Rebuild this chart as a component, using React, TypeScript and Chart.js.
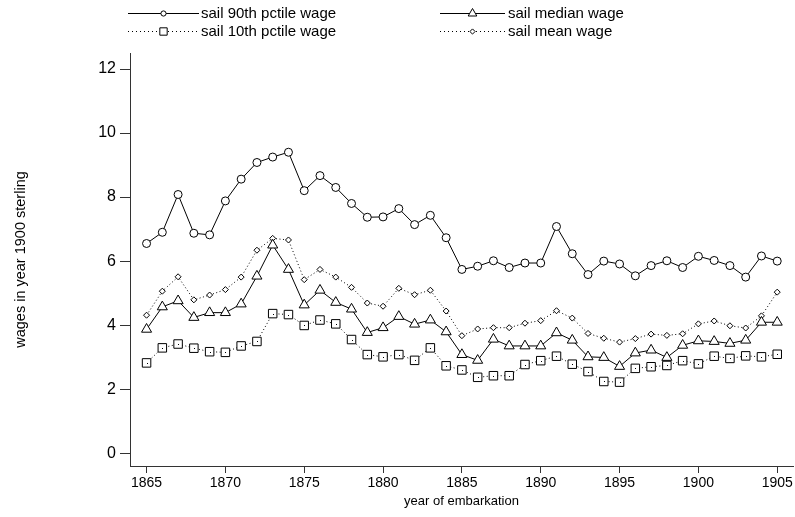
import React, { useEffect, useRef } from 'react';
import { Chart, registerables } from 'chart.js';

Chart.register(...registerables);

const YEARS = [
  1865, 1866, 1867, 1868, 1869, 1870, 1871, 1872, 1873, 1874,
  1875, 1876, 1877, 1878, 1879, 1880, 1881, 1882, 1883, 1884,
  1885, 1886, 1887, 1888, 1889, 1890, 1891, 1892, 1893, 1894,
  1895, 1896, 1897, 1898, 1899, 1900, 1901, 1902, 1903, 1904, 1905,
];

const P90 = [
  6.55, 6.9, 8.08, 6.87, 6.82, 7.88, 8.56, 9.08, 9.25, 9.4,
  8.2, 8.67, 8.3, 7.8, 7.37, 7.38, 7.64, 7.14, 7.43, 6.73,
  5.74, 5.84, 6.01, 5.8, 5.94, 5.94, 7.08, 6.23, 5.58, 6.0,
  5.91, 5.54, 5.86, 6.01, 5.8, 6.15, 6.02, 5.86, 5.5, 6.16, 6.0,
];

const MEDIAN = [
  3.87, 4.57, 4.76, 4.24, 4.39, 4.39, 4.66, 5.53, 6.5, 5.74,
  4.63, 5.09, 4.71, 4.5, 3.77, 3.92, 4.27, 4.03, 4.16, 3.79,
  3.08, 2.9, 3.56, 3.35, 3.35, 3.35, 3.76, 3.53, 3.01, 2.99,
  2.71, 3.13, 3.22, 2.99, 3.37, 3.51, 3.49, 3.43, 3.53, 4.09, 4.09,
];

const P10 = [
  2.82, 3.29, 3.41, 3.28, 3.17, 3.15, 3.35, 3.49, 4.36, 4.33,
  3.99, 4.16, 4.04, 3.55, 3.08, 3.01, 3.08, 2.9, 3.29, 2.73,
  2.6, 2.37, 2.42, 2.42, 2.77, 2.89, 3.03, 2.78, 2.55, 2.24,
  2.22, 2.65, 2.7, 2.74, 2.89, 2.79, 3.03, 2.96, 3.04, 3.01, 3.09,
];

const MEAN = [
  4.31, 5.06, 5.51, 4.79, 4.94, 5.11, 5.5, 6.34, 6.71, 6.66,
  5.42, 5.74, 5.5, 5.18, 4.69, 4.59, 5.15, 4.95, 5.09, 4.44,
  3.67, 3.88, 3.92, 3.92, 4.06, 4.14, 4.45, 4.22, 3.74, 3.59,
  3.47, 3.58, 3.72, 3.68, 3.73, 4.04, 4.13, 3.98, 3.91, 4.29, 5.03,
];

const X_TICKS = [1865, 1870, 1875, 1880, 1885, 1890, 1895, 1900, 1905];
const Y_TICKS = [0, 2, 4, 6, 8, 10, 12];

const SERIES_LABELS = [
  'sail 90th pctile wage',
  'sail median wage',
  'sail 10th pctile wage',
  'sail mean wage',
];

const X_TITLE = 'year of embarkation';
const Y_TITLE = 'wages in year 1900 sterling';

const FONT = '"Liberation Sans", Arial, Helvetica, sans-serif';
const DOT_DASH = [1, 2.5];
const AXIS_COLOR = '#333';
const ZERO_PAD = () => ({ left: 0, right: 0, top: 0, bottom: 0 });

function drawMarker(ctx: CanvasRenderingContext2D, style: string, x: number, y: number, r: number) {
  ctx.beginPath();
  if (style === 'circle') {
    ctx.arc(x, y, r, 0, Math.PI * 2);
  } else if (style === 'triangle') {
    ctx.moveTo(x, y - r);
    ctx.lineTo(x + r * 0.866, y + r * 0.5);
    ctx.lineTo(x - r * 0.866, y + r * 0.5);
    ctx.closePath();
  } else if (style === 'rect') {
    const s = r * Math.SQRT1_2;
    ctx.rect(x - s, y - s, 2 * s, 2 * s);
  } else {
    ctx.moveTo(x - r, y);
    ctx.lineTo(x, y - r);
    ctx.lineTo(x + r, y);
    ctx.lineTo(x, y + r);
    ctx.closePath();
  }
  ctx.fillStyle = '#ffffff';
  ctx.fill();
  ctx.setLineDash([]);
  ctx.stroke();
}

const legendPlugin = {
  id: 'stataLegend',
  afterDraw(chart: any) {
    const ctx: CanvasRenderingContext2D = chart.ctx;
    const ds = chart.data.datasets;
    const slots = [
      { i: 0, x0: 128, x1: 199, y: 13, tx: 201 },
      { i: 1, x0: 440, x1: 505, y: 13, tx: 508 },
      { i: 2, x0: 128, x1: 199, y: 31, tx: 201 },
      { i: 3, x0: 440, x1: 505, y: 31, tx: 508 },
    ];
    ctx.save();
    ctx.strokeStyle = '#000';
    ctx.lineWidth = 1;
    for (const s of slots) {
      const d = ds[s.i];
      ctx.beginPath();
      ctx.setLineDash(d.borderDash ? [1, 3] : []);
      ctx.moveTo(s.x0, s.y + 0.5);
      ctx.lineTo(s.x1, s.y + 0.5);
      ctx.stroke();
      drawMarker(ctx, d.pointStyle, (s.x0 + s.x1) / 2, s.y + 0.5, d.legendRadius);
      ctx.fillStyle = '#000';
      ctx.font = `15px ${FONT}`;
      ctx.textBaseline = 'middle';
      ctx.textAlign = 'left';
      ctx.fillText(d.label, s.tx, s.y + 1);
    }
    ctx.restore();
  },
  afterDatasetsDraw(chart: any) {
    const ctx: CanvasRenderingContext2D = chart.ctx;
    const meta = chart.getDatasetMeta(2);
    ctx.save();
    ctx.fillStyle = '#000';
    for (const el of meta.data) {
      ctx.fillRect(Math.round(el.x), Math.round(el.y), 1, 1);
    }
    ctx.restore();
  },
};

export default function App() {
  const ref = useRef<HTMLCanvasElement | null>(null);

  useEffect(() => {
    if (!ref.current) return;
    const toXY = (vals: number[]) => YEARS.map((x, i) => ({ x, y: vals[i] }));
    const base = {
      borderColor: '#000',
      borderWidth: 1,
      pointBorderColor: '#000',
      pointBackgroundColor: '#fff',
      pointBorderWidth: 1,
      tension: 0,
      fill: false,
    };
    const chart = new Chart(ref.current, {
      type: 'line',
      data: {
        datasets: [
          { ...base, label: SERIES_LABELS[0], data: toXY(P90), pointStyle: 'circle', pointRadius: 4, legendRadius: 2.6 } as any,
          { ...base, label: SERIES_LABELS[1], data: toXY(MEDIAN), pointStyle: 'triangle', pointRadius: 5.8, legendRadius: 5 } as any,
          { ...base, label: SERIES_LABELS[2], data: toXY(P10), pointStyle: 'rect', pointRadius: 6, legendRadius: 5.2, borderDash: DOT_DASH } as any,
          { ...base, label: SERIES_LABELS[3], data: toXY(MEAN), pointStyle: 'rectRot', pointRadius: 3, legendRadius: 2.6, borderDash: DOT_DASH } as any,
        ],
      },
      options: {
        responsive: false,
        maintainAspectRatio: false,
        devicePixelRatio: 1,
        animation: false,
        layout: { autoPadding: false, padding: { top: 53, right: 2, bottom: 0, left: 0 } },
        plugins: {
          legend: { display: false },
          tooltip: { enabled: false },
        },
        scales: {
          x: {
            type: 'linear',
            min: 1863.95,
            max: 1906,
            afterBuildTicks: (s: any) => {
              s.ticks = X_TICKS.map((v) => ({ value: v }));
            },
            afterFit: (s: any) => {
              s.height = 51;
              s.paddingLeft = 0;
              s.paddingRight = 0;
              s.getPadding = ZERO_PAD;
            },
            grid: {
              display: true,
              drawOnChartArea: false,
              drawTicks: true,
              tickLength: 7,
              tickColor: AXIS_COLOR,
              color: AXIS_COLOR,
            },
            border: { display: true, color: AXIS_COLOR, width: 1 },
            ticks: {
              color: '#000',
              font: { family: FONT, size: 14 },
              padding: 2,
              maxRotation: 0,
              autoSkip: false,
              callback: (v: any) => String(v),
            },
            title: {
              display: true,
              text: X_TITLE,
              color: '#000',
              font: { family: FONT, size: 13 },
              padding: { top: 0, bottom: 8 },
            },
          },
          y: {
            type: 'linear',
            min: -0.4,
            max: 12.5,
            afterBuildTicks: (s: any) => {
              s.ticks = Y_TICKS.map((v) => ({ value: v }));
            },
            afterFit: (s: any) => {
              s.width = 130;
              s.paddingTop = 0;
              s.paddingBottom = 0;
              s.getPadding = ZERO_PAD;
            },
            grid: {
              display: true,
              drawOnChartArea: false,
              drawTicks: true,
              tickLength: 10,
              tickColor: AXIS_COLOR,
              color: AXIS_COLOR,
            },
            border: { display: true, color: AXIS_COLOR, width: 1 },
            ticks: {
              color: '#000',
              font: { family: FONT, size: 16 },
              padding: 4,
              autoSkip: false,
              callback: (v: any) => String(v),
            },
            title: {
              display: true,
              text: Y_TITLE,
              color: '#000',
              font: { family: FONT, size: 14.5 },
              padding: { top: 12, bottom: 0 },
            },
          },
        },
      },
      plugins: [legendPlugin],
    });
    return () => chart.destroy();
  }, []);

  return (
    <div style={{ position: 'absolute', left: 0, top: 0, width: 795, height: 517, background: '#fff' }}>
      <canvas ref={ref} width={795} height={517} style={{ display: 'block' }} />
    </div>
  );
}
